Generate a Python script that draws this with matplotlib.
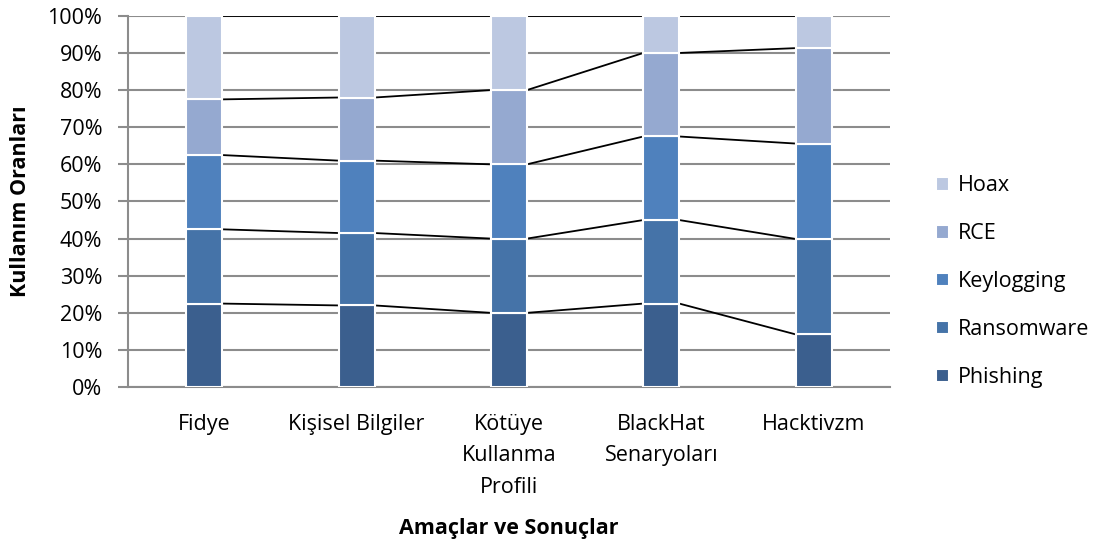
import matplotlib.pyplot as plt
import numpy as np

plt.rcParams['font.family'] = ['Open Sans', 'DejaVu Sans']

categories = ['Fidye', 'Kişisel Bilgiler', 'Kötüye\nKullanma\nProfili',
              'BlackHat\nSenaryoları', 'Hacktivzm']
series = ['Phishing', 'Ransomware', 'Keylogging', 'RCE', 'Hoax']
phishing = [22.5, 22.0, 20.0, 22.5, 14.2]
ransomware = [20.0, 19.5, 20.0, 22.5, 25.7]
keylogging = [20.0, 19.5, 20.0, 22.5, 25.7]
rce = [15.0, 17.0, 20.0, 22.5, 25.7]
hoax = [22.5, 22.0, 20.0, 10.0, 8.7]
colors = ['#3b5f8e', '#4573a8', '#4f81bd', '#95a9d0', '#bcc8e1']

data = np.array([phishing, ransomware, keylogging, rce, hoax])
data = data / data.sum(axis=0) * 100   # 100% stacked

fs = 15.5
fig = plt.figure(figsize=(11.04, 5.46), dpi=100)
ax = fig.add_axes([0.116, 0.291, 0.690, 0.680])

x = np.arange(len(categories))
w = 0.236
bottom = np.zeros(len(categories))
handles = []
for vals, name, c in zip(data, series, colors):
    b = ax.bar(x, vals, w, bottom=bottom, color=c, edgecolor='white',
               linewidth=1.5, label=name, zorder=3)
    handles.append(b)
    bottom = bottom + vals
    # series lines between neighbouring bars
    for i in range(len(x) - 1):
        ax.plot([x[i] + w / 2, x[i + 1] - w / 2], [bottom[i], bottom[i + 1]],
                color='black', lw=1.3, zorder=2)

ax.set_xlim(-0.5, len(categories) - 0.5)
ax.set_ylim(0, 100)
ax.set_yticks(np.arange(0, 101, 10))
ax.set_yticklabels([f'{v}%' for v in range(0, 101, 10)])
ax.set_xticks(x)
ax.set_xticklabels(categories, linespacing=1.68)
ax.yaxis.grid(True, color='#8c8c8c', lw=1.5, zorder=0)
ax.set_axisbelow(True)

for s in ['top', 'right']:
    ax.spines[s].set_visible(False)
for s in ['left', 'bottom']:
    ax.spines[s].set_color('#8c8c8c')
    ax.spines[s].set_linewidth(1.5)
ax.tick_params(axis='y', length=7.5, width=1.5, color='#8c8c8c',
               labelsize=fs, pad=11)
ax.tick_params(axis='x', length=0, labelsize=fs, pad=19)

ax.set_ylabel('Kullanım Oranları', fontsize=fs, fontweight='bold', labelpad=12)
ax.set_xlabel('Amaçlar ve Sonuçlar', fontsize=fs, fontweight='bold', labelpad=14)

fig.legend(handles[::-1], series[::-1], loc='center left',
           bbox_to_anchor=(0.830, 0.484), frameon=False, fontsize=fs,
           handlelength=0.6, handleheight=0.6, handletextpad=0.45,
           labelspacing=1.25)

fig.savefig('out.png', dpi=100)
